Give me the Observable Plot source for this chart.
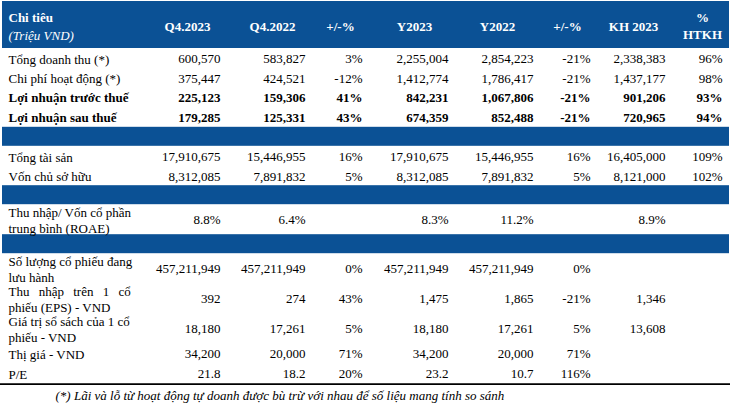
<!DOCTYPE html>
<html>
<head>
<meta charset="utf-8">
<script src="https://cdn.jsdelivr.net/npm/d3@7"></script>
<script src="https://cdn.jsdelivr.net/npm/@observablehq/plot@0.6"></script>
<style>
  html, body { margin: 0; padding: 0; background: #fff; }
  #chart svg { display: block; }
</style>
</head>
<body>
<div id="chart"></div>
<script>
// ---------- DATA ----------
const headerTitle = "Chi tiêu";
const headerUnit = "(Triệu VND)";
const columns = ["Q4.2023", "Q4.2022", "+/-%", "Y2023", "Y2022", "+/-%", "KH 2023", "%\nHTKH"];

const labels = [
  "Tổng doanh thu (*)",
  "Chi phí hoạt động (*)",
  "Lợi nhuận trước thuế",
  "Lợi nhuận sau thuế",
  "Tổng tài sản",
  "Vốn chủ sở hữu",
  "Thu nhập/ Vốn cổ phần\ntrung bình (ROAE)",
  "Số lượng cổ phiếu đang\nlưu hành",
  "Thu nhập trên 1 cổ\nphiếu (EPS) - VND",
  "Giá trị sổ sách của 1 cổ\nphiếu - VND",
  "Thị giá - VND",
  "P/E"
];
const boldRows = [false, false, true, true, false, false, false, false, false, false, false, false];
// number kind per row: "int" thousands, "pct1" one-decimal percent, "dec" one decimal
const rowKind = ["int", "int", "int", "int", "int", "int", "pct1", "int", "int", "int", "int", "dec"];

const q4_2023 = [600570, 375447, 225123, 179285, 17910675, 8312085, 0.088, 457211949, 392, 18180, 34200, 21.8];
const q4_2022 = [583827, 424521, 159306, 125331, 15446955, 7891832, 0.064, 457211949, 274, 17261, 20000, 18.2];
const q4_change = [0.03, -0.12, 0.41, 0.43, 0.16, 0.05, null, 0.00, 0.43, 0.05, 0.71, 0.20];
const y2023 = [2255004, 1412774, 842231, 674359, 17910675, 8312085, 0.083, 457211949, 1475, 18180, 34200, 23.2];
const y2022 = [2854223, 1786417, 1067806, 852488, 15446955, 7891832, 0.112, 457211949, 1865, 17261, 20000, 10.7];
const y_change = [-0.21, -0.21, -0.21, -0.21, 0.16, 0.05, null, 0.00, -0.21, 0.05, 0.71, 1.16];
const kh2023 = [2338383, 1437177, 901206, 720965, 16405000, 8121000, 0.089, null, 1346, 13608, null, null];
const htkh = [0.96, 0.98, 0.93, 0.94, 1.09, 1.02, null, null, null, null, null, null];

const footnote = "(*) Lãi và lỗ từ hoạt động tự doanh được bù trừ với nhau để số liệu mang tính so sánh";

// ---------- LAYOUT (computed) ----------
const W = 732, H = 414;
const BLUE = "#0b5195";
const FONT = "Liberation Serif";
const locale = d3.formatLocale({decimal: ".", thousands: ",", grouping: [3], currency: ["", ""], minus: "-"});
const fInt = locale.format(",");
const fPct0 = locale.format(".0%");
const fPct1 = locale.format(".1%");
const fDec = locale.format(".1f");

// table structure: h header, s single row, d double row, b blue separator band
const structure = ["h", "s", "s", "s", "s", "b", "s", "s", "b", "d", "b", "d", "d", "d", "s", "s"];
const heights = {h: 47, s: 19.7, b: 19, d: 30};
let yCursor = 1;
const cells = structure.map(k => { const c = {kind: k, y1: yCursor, y2: yCursor + heights[k]}; yCursor += heights[k]; return c; });
const headerCell = cells[0];
const bands = cells.filter(c => c.kind === "b");
const dataCells = cells.filter(c => c.kind === "s" || c.kind === "d");
const tableBottom = yCursor;

const labelX = 8;
const colRight = [220, 305, 362, 448, 533, 590, 665, 722];
const colHeadCenter = [187, 272, 340, 414, 497, 567, 633, 702];
const series = [q4_2023, q4_2022, q4_change, y2023, y2022, y_change, kh2023, htkh];
const isChange = [false, false, true, false, false, true, false, true];

const valueCells = [];
series.forEach((arr, ci) => {
  arr.forEach((v, ri) => {
    if (v == null) return;
    let txt;
    if (isChange[ci]) txt = fPct0(v);
    else if (rowKind[ri] === "pct1") txt = fPct1(v);
    else if (rowKind[ri] === "dec") txt = fDec(v);
    else txt = fInt(v);
    const c = dataCells[ri];
    valueCells.push({x: colRight[ci], y: (c.y1 + c.y2) / 2 + 0.5, text: txt, bold: boldRows[ri]});
  });
});
const labelCells = labels.map((t, ri) => ({x: labelX, y: (dataCells[ri].y1 + dataCells[ri].y2) / 2 + 0.5, text: t, bold: boldRows[ri]}));
const headCells = columns.map((t, ci) => ({x: colHeadCenter[ci], y: (headerCell.y1 + headerCell.y2) / 2, text: t}));

const plot = Plot.plot({
  width: W,
  height: H,
  margin: 0,
  style: {fontFamily: FONT, fontSize: "13px", background: "#fff"},
  x: {type: "linear", domain: [0, W], range: [0, W], axis: null},
  y: {type: "linear", domain: [0, H], range: [0, H], axis: null},
  marks: [
    // header band
    Plot.rect([headerCell], {x1: 2, x2: 729, y1: "y1", y2: "y2", fill: BLUE}),
    // separator bands
    Plot.rect(bands, {x1: 2, x2: 729, y1: "y1", y2: "y2", fill: BLUE}),
    // bottom rule
    Plot.ruleY([tableBottom + 1], {x1: 0, x2: 730, stroke: "#000", strokeWidth: 1.6}),
    // header texts
    Plot.text([headerTitle], {x: labelX, y: headerCell.y1 + 16, text: d => d, textAnchor: "start", fill: "#fff", fontWeight: "bold", fontSize: 13, fontFamily: FONT}),
    Plot.text([headerUnit], {x: labelX, y: headerCell.y1 + 34, text: d => d, textAnchor: "start", fill: "#fff", fontStyle: "italic", fontSize: 13, fontFamily: FONT}),
    Plot.text(headCells, {x: "x", y: "y", text: "text", textAnchor: "middle", fill: "#fff", fontWeight: "bold", fontSize: 13, lineHeight: 1.35, fontFamily: FONT}),
    // row labels
    Plot.text(labelCells.filter(d => !d.bold), {x: "x", y: "y", text: "text", textAnchor: "start", fill: "#000", fontSize: 13, lineHeight: 1.18, fontFamily: FONT}),
    Plot.text(labelCells.filter(d => d.bold), {x: "x", y: "y", text: "text", textAnchor: "start", fill: "#000", fontWeight: "bold", fontSize: 13, fontFamily: FONT}),
    // values
    Plot.text(valueCells.filter(d => !d.bold), {x: "x", y: "y", text: "text", textAnchor: "end", fill: "#000", fontSize: 13, fontFamily: FONT}),
    Plot.text(valueCells.filter(d => d.bold), {x: "x", y: "y", text: "text", textAnchor: "end", fill: "#000", fontWeight: "bold", fontSize: 13, fontFamily: FONT}),
    // footnote
    Plot.text([footnote], {x: 55, y: tableBottom + 13, text: d => d, textAnchor: "start", fill: "#000", fontStyle: "italic", fontSize: 13, fontFamily: FONT})
  ]
});
// justified first line of the EPS label, as in the reference
d3.select(plot).selectAll("tspan")
  .filter(function () { return this.textContent === "Thu nhập trên 1 cổ"; })
  .attr("word-spacing", "6px");
document.getElementById("chart").appendChild(plot);
</script>
</body>
</html>
